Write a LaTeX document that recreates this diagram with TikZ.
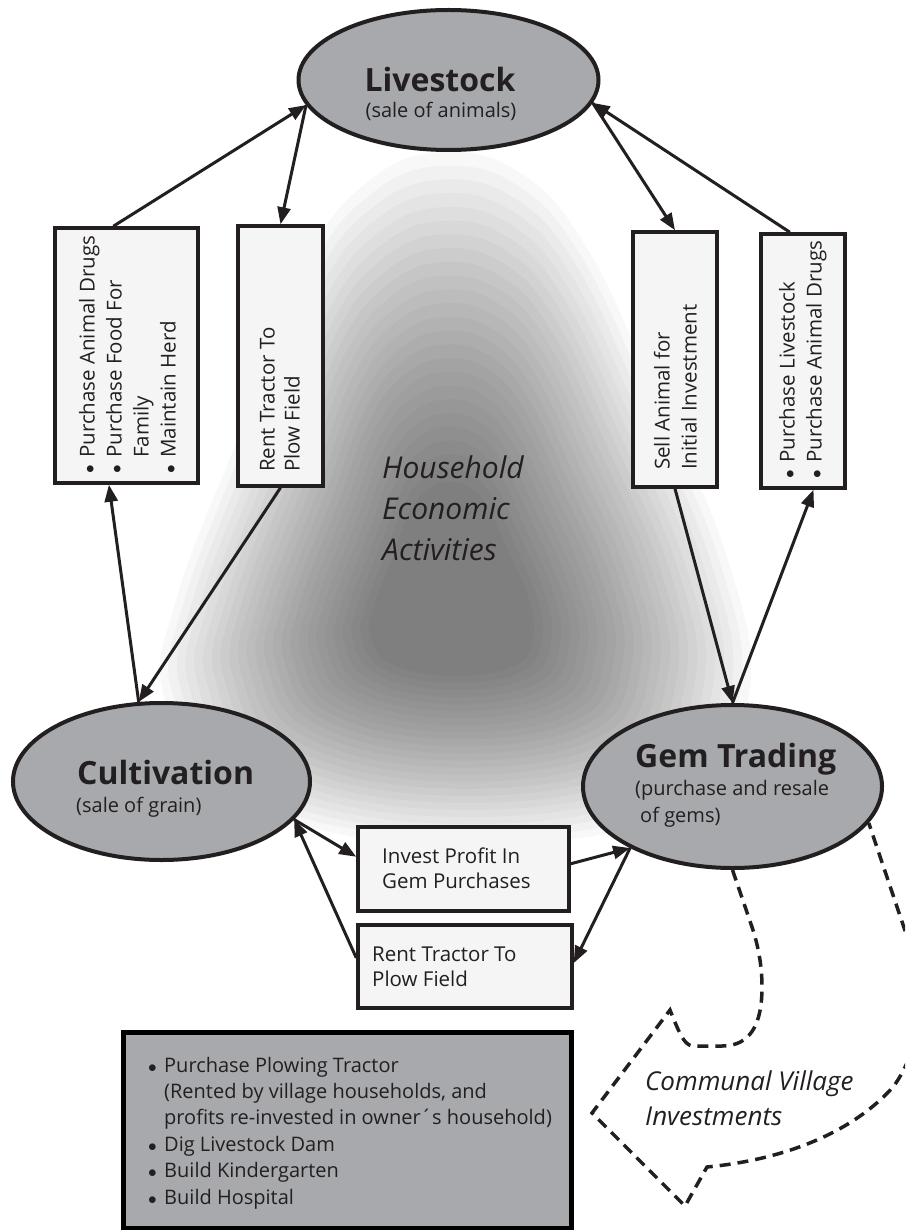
\documentclass[tikz,border=0pt]{standalone}
\usepackage{fontspec}
\setmainfont{Open Sans}
\usetikzlibrary{arrows.meta,calc,shapes.geometric}
\definecolor{ink}{HTML}{231F20}
\definecolor{ovalgray}{HTML}{A7A9AC}
\definecolor{boxfill}{HTML}{F5F5F5}
\newcommand{\titlef}{\fontsize{32}{36}\selectfont\bfseries}
\newcommand{\subf}{\fontsize{20}{26}\selectfont}
\newcommand{\boxf}{\fontsize{20.5}{27}\selectfont}
\newcommand{\boxg}{\fontsize{20.5}{25}\selectfont}
\newcommand{\bigf}{\fontsize{20}{26.4}\selectfont}
\newcommand{\blt}{\makebox[16pt][l]{\fontsize{17}{17}\selectfont$\bullet$}}
\begin{document}
\begin{tikzpicture}[x=1pt,y=-1pt,
  oval/.style={ellipse, draw=ink, line width=4pt, fill=ovalgray, inner sep=0pt},
  vbox/.style={rectangle, draw=ink, line width=3.5pt, fill=boxfill, inner sep=0pt},
  graybox/.style={rectangle, draw=black, line width=5pt, fill=ovalgray, inner sep=0pt},
  txt/.style={inner sep=0pt, text=ink},
  con/.style={draw=ink, line width=3pt, -{Triangle[length=17pt,width=13pt]}},
  dsh/.style={draw=ink, line width=3.5pt, dash pattern=on 11pt off 7pt},
  glowlayer/.style={fill=black, opacity=0.026}
]
\useasboundingbox (0,0) rectangle (905,1230);

% background glow: nested translucent layers
\foreach \s in {1.00,0.97,...,0.27}
  \fill[glowlayer, scale around={\s:(450,610)}] plot[smooth cycle, tension=0.7] coordinates
    {(445,152) (370,180) (305,262) (245,420) (176,600) (165,700) (235,800) (450,845) (680,810) (748,700) (728,560) (650,380) (585,245) (522,174)};

% ellipses
\node[oval, minimum width=300pt, minimum height=140pt] (L) at (448.5,80) {};
\node[oval, minimum width=297pt, minimum height=157pt] (K) at (161.5,781.5) {};
\node[oval, minimum width=299pt, minimum height=163pt] (G) at (732.5,786.5) {};

\node[txt, anchor=base, font=\titlef] (Lt) at (440,92) {Livestock};
\node[txt, anchor=base, font=\subf] (Ls) at (441,118) {(sale of animals)};
\node[txt, anchor=base west, font=\titlef] (Kt) at (77,784) {Cultivation};
\node[txt, anchor=base west, font=\subf] (Ks) at (76,812) {(sale of grain)};
\node[txt, anchor=base west, font=\titlef] (Gt) at (635,767) {Gem Trading};
\node[txt, anchor=base west, font=\subf] (Gs1) at (635,795) {(purchase and resale};
\node[txt, anchor=base west, font=\subf] (Gs2) at (640,822) {of gems)};

% vertical boxes
\node[vbox, minimum width=143pt, minimum height=255pt] (A) at (126.5,355.5) {};
\node[vbox, minimum width=85pt, minimum height=260pt] (B) at (280.5,356) {};
\node[vbox, minimum width=84pt, minimum height=255pt] (C) at (675,359.5) {};
\node[vbox, minimum width=84pt, minimum height=254pt] (D) at (803,361) {};

\node[txt, rotate=90, anchor=base west, font=\boxf] (At) at (94.6,474)
  {\begin{tabular}[t]{@{}l@{}l@{}}\blt & Purchase Animal Drugs\\ \blt & Purchase Food For\\ & Family\\ \blt & Maintain Herd\end{tabular}};
\node[txt, rotate=90, anchor=base west, font=\boxg] (Bt) at (274.6,472)
  {\begin{tabular}[t]{@{}l@{}}Rent Tractor To\\Plow Field\end{tabular}};
\node[txt, rotate=90, anchor=base west, font=\boxf] (Ct) at (669.6,470)
  {\begin{tabular}[t]{@{}l@{}}Sell Animal for\\Initial Investment\end{tabular}};
\node[txt, rotate=90, anchor=base west, font=\boxf] (Dt) at (794.6,479)
  {\begin{tabular}[t]{@{}l@{}l@{}}\blt & Purchase Livestock\\ \blt & Purchase Animal Drugs\end{tabular}};

% horizontal boxes
\node[vbox, minimum width=211pt, minimum height=84pt] (E) at (463.5,869) {};
\node[vbox, minimum width=214pt, minimum height=83pt] (F) at (465,966.5) {};
\node[txt, anchor=base west, font=\boxg] (Et) at (382,863)
  {\begin{tabular}[t]{@{}l@{}}Invest Profit In\\Gem Purchases\end{tabular}};
\node[txt, anchor=base west, font=\boxg] (Ft) at (372,961)
  {\begin{tabular}[t]{@{}l@{}}Rent Tractor To\\Plow Field\end{tabular}};

% big gray box
\node[graybox, minimum width=448pt, minimum height=196pt] (H) at (347,1130) {};
\node[txt, anchor=base west, font=\bigf] (Ht) at (148,1072)
  {\begin{tabular}[t]{@{}l@{}l@{}}\blt & Purchase Plowing Tractor\\
   & (Rented by village households, and\\
   & profits re-invested in owner\char"00B4 s household)\\
   \blt & Dig Livestock Dam\\
   \blt & Build Kindergarten\\
   \blt & Build Hospital\end{tabular}};

% centre label
\node[txt, anchor=base west, font=\fontsize{30}{41}\selectfont\itshape] (Mid) at (382,478)
  {\begin{tabular}[t]{@{}l@{}}Household\\Economic\\Activities\end{tabular}};

% communal dashed arrow
\begin{scope}
\clip (0,0) rectangle (905,1230);
\draw[dsh] (G.270) -- (752,927) .. controls (758,945) and (762,965) .. (762,987)
  .. controls (762,1025) and (750,1046) .. (722,1046) -- (692,1046)
  .. controls (684,1044) and (680,1035) .. (670,1010) -- (592,1113) -- (685,1206) -- (707,1167)
  .. controls (780,1160) and (850,1135) .. (893,1087)
  .. controls (910,1065) and (925,1020) .. (925,990) -- (G.345);
\end{scope}
\node[txt, anchor=base west, font=\fontsize{26}{35}\selectfont\itshape] (Comm) at (645,1090)
  {\begin{tabular}[t]{@{}l@{}}Communal Village\\Investments\end{tabular}};

% connectors
\draw[con] ($(A.north west)!0.41!(A.north east)$) -- (L.190);
\draw[con] (L.190) -- (B.north);
\draw[con] ($(D.north west)!0.35!(D.north east)$) -- (L.351);
\draw[con] (L.351) -- (C.north);
\draw[con] (K.106) -- ($(A.south west)!0.38!(A.south east)$);
\draw[con] (B.south) -- (K.106);
\draw[con] (C.south) -- (G.north);
\draw[con] (G.north) -- ($(D.south west)!0.62!(D.south east)$);
\draw[con] (K.344) -- ($(E.north west)!0.36!(E.south west)$);
\draw[con] ($(F.north west)!0.4!(F.south west)$) -- (K.344);
\draw[con] ($(E.north east)!0.44!(E.south east)$) -- (G.211);
\draw[con] (G.211) -- ($(F.north east)!0.46!(F.south east)$);
\end{tikzpicture}
\end{document}
